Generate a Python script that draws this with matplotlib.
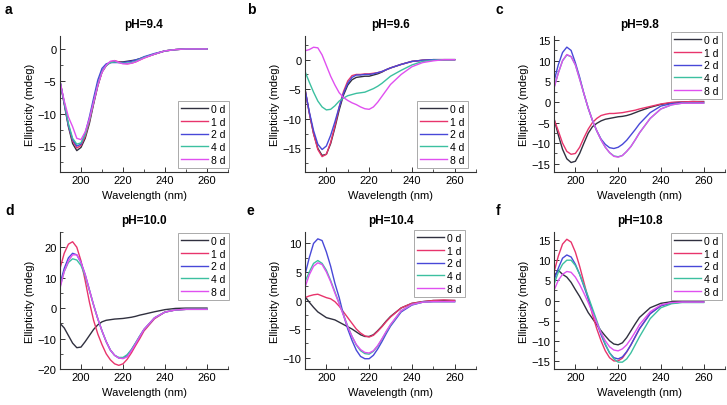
import matplotlib
matplotlib.use("Agg")
import matplotlib.pyplot as plt
from matplotlib.ticker import MultipleLocator

plt.rcParams.update({
    "font.family": ["Liberation Sans", "DejaVu Sans"],
    "font.size": 7.5,
    "axes.linewidth": 0.8,
})

# ----------------------------------------
# Data
# ----------------------------------------
wavelength = [190, 192, 194, 196, 198, 200, 202, 204, 206, 208, 210, 212, 214, 216,
              218, 220, 222, 224, 226, 228, 230, 235, 240, 245, 250, 255, 260]
days = ["0 d", "1 d", "2 d", "4 d", "8 d"]

# pH 9.4
a_0d = [-5, -8.5, -12, -14.6, -15.7, -15.2, -13.8, -11.5, -8.5, -5.7, -3.5, -2.5, -2.1, -2.0,
        -2.0, -2.0, -1.9, -1.8, -1.7, -1.5, -1.3, -0.8, -0.3, -0.1, 0, 0, 0]
a_1d = [-5, -8.3, -11.8, -14.2, -15.3, -14.9, -13.5, -11.2, -8.3, -5.6, -3.6, -2.6, -2.0, -1.8,
        -2.0, -2.2, -2.3, -2.2, -2.0, -1.7, -1.4, -0.8, -0.3, -0.1, 0, 0, 0]
a_2d = [-5, -8.3, -11.8, -14.0, -15.0, -14.7, -13.0, -10.5, -7.6, -4.8, -3.0, -2.3, -2.1, -2.1,
        -2.1, -2.1, -2.0, -1.9, -1.7, -1.5, -1.2, -0.7, -0.3, -0.1, 0, 0, 0]
a_4d = [-5, -8.2, -11.5, -13.8, -14.7, -14.5, -13.2, -11.0, -8.2, -5.5, -3.5, -2.6, -2.1, -2.0,
        -2.1, -2.2, -2.2, -2.1, -1.9, -1.6, -1.3, -0.8, -0.3, -0.1, 0, 0, 0]
a_8d = [-5, -8, -10.5, -12.0, -13.8, -14.0, -12.8, -10.8, -8.2, -5.6, -3.6, -2.5, -1.9, -1.8,
        -2.1, -2.3, -2.3, -2.2, -2.0, -1.7, -1.4, -0.8, -0.3, -0.1, 0, 0, 0]

# pH 9.6
b_0d = [-5, -9, -12.5, -15, -16.2, -16.0, -14.2, -11.5, -8.5, -6.0, -4.3, -3.4, -3.0, -2.9,
        -2.8, -2.8, -2.6, -2.4, -2.1, -1.7, -1.4, -0.8, -0.3, -0.1, 0, 0, 0]
b_1d = [-5, -9, -12.5, -15.2, -16.4, -16.0, -14.0, -11.2, -8.0, -5.4, -3.6, -2.7, -2.5, -2.5,
        -2.4, -2.4, -2.3, -2.2, -2.0, -1.7, -1.4, -0.8, -0.3, -0.1, 0, 0, 0]
b_2d = [-5, -8.8, -12, -14.3, -15.2, -14.6, -12.8, -10.5, -8.0, -5.7, -4.0, -3.0, -2.6, -2.6,
        -2.5, -2.5, -2.4, -2.2, -2.0, -1.7, -1.4, -0.8, -0.3, -0.1, 0, 0, 0]
b_4d = [-2, -3.8, -5.5, -7.0, -8.0, -8.5, -8.4, -7.8, -7.0, -6.5, -6.1, -5.9, -5.7, -5.6,
        -5.5, -5.2, -4.9, -4.5, -4.0, -3.4, -2.8, -1.8, -0.9, -0.3, -0.1, 0, 0]
b_8d = [1.5, 1.7, 2.1, 2.0, 0.8, -1.0, -2.8, -4.3, -5.6, -6.4, -6.9, -7.3, -7.6, -8.0,
        -8.3, -8.4, -8.0, -7.2, -6.2, -5.2, -4.2, -2.5, -1.2, -0.5, -0.2, 0, 0]

# pH 9.8
c_0d = [-4, -8, -11.5, -13.8, -14.7, -14.4, -12.5, -10.0, -7.6, -6.0, -5.2, -4.6, -4.2, -4.0,
        -3.8, -3.6, -3.5, -3.3, -3.0, -2.6, -2.2, -1.3, -0.6, -0.2, 0, 0.1, 0.1]
c_1d = [-4.2, -7, -10, -12, -12.7, -12.5, -11, -8.7, -6.6, -5.0, -4.0, -3.3, -3.0, -2.8,
        -2.8, -2.7, -2.6, -2.4, -2.2, -2.0, -1.7, -1.1, -0.5, -0.1, 0, 0.1, 0]
c_2d = [5, 9, 12, 13.3, 12.5, 9.5, 6, 2, -1.5, -4.5, -7, -9, -10.3, -11.1,
        -11.3, -11, -10.3, -9.3, -8, -6.7, -5.3, -2.6, -1, -0.4, -0.2, -0.2, -0.2]
c_4d = [3.5, 7, 10, 11.4, 11, 9, 5.6, 2, -1.5, -4.5, -7, -9.2, -11, -12.3,
        -13.1, -13.3, -13, -12, -10.8, -9.2, -7.5, -4, -1.7, -0.7, -0.3, -0.3, -0.3]
c_8d = [3.3, 7, 10, 11.5, 11, 9, 5.5, 2, -1.5, -4.5, -7, -9.2, -11, -12.3,
        -13.2, -13.4, -13, -12, -10.8, -9.2, -7.5, -4, -1.7, -0.7, -0.3, -0.3, -0.3]

# pH 10.0
d_0d = [-5, -6.5, -9, -11.5, -13, -12.8, -11, -9, -7, -5.5, -4.5, -4, -3.8, -3.6,
        -3.5, -3.4, -3.2, -3, -2.7, -2.3, -2, -1.2, -0.5, -0.1, 0, 0, 0]
d_1d = [13, 18, 21, 21.8, 20, 15.5, 9, 2, -4, -8.5, -12, -15, -17, -18.3,
        -18.8, -18.3, -16.8, -14.7, -12.3, -10, -7.5, -3.5, -1.3, -0.6, -0.4, -0.4, -0.4]
d_2d = [8, 13, 16.5, 18, 17.5, 15, 11, 6, 1, -3.5, -7.5, -11, -13.8, -15.5,
        -16.4, -16.5, -15.5, -13.7, -11.5, -9.2, -7, -3.2, -1.3, -0.6, -0.4, -0.4, -0.4]
d_4d = [7, 12, 15, 16.2, 15.8, 14, 10.5, 5.8, 1, -3.5, -7.5, -11, -13.8, -15.5,
        -16.2, -16.2, -15.3, -13.6, -11.4, -9.1, -7, -3.2, -1.3, -0.6, -0.4, -0.4, -0.4]
d_8d = [6.5, 12, 15.5, 17.5, 17.5, 15, 11, 6, 1, -3.5, -7.5, -11, -13.8, -15.5,
        -16.4, -16.6, -16, -14, -11.7, -9.3, -7, -3.2, -1.3, -0.6, -0.4, -0.4, -0.4]

# pH 10.4
e_0d = [0.7, -0.3, -1.2, -2, -2.5, -3, -3.2, -3.4, -3.8, -4.2, -4.6, -5, -5.5, -6,
        -6.3, -6.3, -6, -5.3, -4.5, -3.6, -2.8, -1.3, -0.5, -0.2, 0, 0, 0]
e_1d = [0.5, 0.8, 1, 1.1, 0.8, 0.5, 0.3, -0.2, -1, -2, -3, -4, -5, -5.7,
        -6.2, -6.4, -6.1, -5.4, -4.6, -3.7, -2.9, -1.3, -0.5, -0.2, 0, 0.1, 0]
e_2d = [4.5, 7.5, 10, 10.8, 10.5, 8.5, 6, 3, 0.5, -2.5, -5, -7, -8.7, -9.8,
        -10.2, -10.2, -9.6, -8.5, -7.2, -5.8, -4.5, -2, -0.8, -0.3, -0.2, -0.2, -0.2]
e_4d = [3.3, 5, 6.5, 7, 6.5, 5.3, 3.5, 1.5, -0.5, -2.5, -4.5, -6.3, -7.8, -8.8,
        -9.3, -9.4, -8.9, -8, -6.8, -5.5, -4.3, -1.8, -0.7, -0.3, -0.2, -0.2, -0.2]
e_8d = [2.3, 4.5, 6, 6.6, 6.3, 5, 3.3, 1.3, -0.6, -2.6, -4.6, -6.3, -7.7, -8.6,
        -9.1, -9.2, -8.8, -7.9, -6.7, -5.4, -4.2, -1.8, -0.7, -0.3, -0.2, -0.2, -0.2]

# pH 10.8
f_0d = [6, 7.5, 6.5, 5.8, 4.5, 2.7, 1, -1, -3, -4.5, -6, -7.5, -8.8, -10,
        -10.8, -11, -10.5, -9.2, -7.5, -5.8, -4.2, -1.8, -0.7, -0.3, -0.2, -0.2, -0.2]
f_1d = [7, 11, 14, 15.2, 14.5, 12, 8.5, 4.5, 0.5, -3.5, -7, -10, -12.5, -14.2,
        -15, -15, -14.3, -12.8, -11, -9, -7, -3.2, -1.3, -0.6, -0.4, -0.4, -0.4]
f_2d = [5, 8, 10.5, 11.3, 10.8, 9, 6.5, 3.5, 0.5, -2.5, -5.5, -8.5, -11, -13,
        -14.2, -14.5, -14, -12.7, -11, -9, -7, -3.3, -1.3, -0.6, -0.4, -0.4, -0.4]
f_4d = [4, 7, 9, 10, 10, 8.7, 6.5, 3.8, 1, -2, -5, -8, -10.8, -13,
        -14.5, -15.3, -15.3, -14.5, -13, -11, -9, -4.5, -1.8, -0.8, -0.5, -0.5, -0.5]
f_8d = [2.5, 5, 6.5, 7.2, 7, 5.8, 4, 1.8, -0.5, -3, -5.5, -8, -10, -11.5,
        -12.3, -12.5, -12, -11, -9.5, -7.8, -6, -2.8, -1.1, -0.5, -0.4, -0.4, -0.4]

# ----------------------------------------
# Colours
# ----------------------------------------
line_colors = ["#30303f", "#e8346c", "#4848d8", "#3cc0a0", "#e050f0"]

W, H = 727, 406
fig = plt.figure(figsize=(W / 100, H / 100), dpi=100)

def px_rect(x0, x1, top, bottom):
    return [x0 / W, 1 - bottom / H, (x1 - x0) / W, (bottom - top) / H]

# panel: letter, letter y, title, series, ylim, ymajor, axes px, legend anchor (px: right, top)
panels = [
    ("a", 10, "pH=9.4", [a_0d, a_1d, a_2d, a_4d, a_8d], (-19, 2), 5, (60, 228, 37, 173), (229, 102)),
    ("b", 10, "pH=9.6", [b_0d, b_1d, b_2d, b_4d, b_8d], (-19, 4), 5, (305, 476, 37, 173), (468, 102)),
    ("c", 10, "pH=9.8", [c_0d, c_1d, c_2d, c_4d, c_8d], (-17, 16), 5, (554, 725, 37, 173), (722, 33)),
    ("d", 211, "pH=10.0", [d_0d, d_1d, d_2d, d_4d, d_8d], (-20, 25), 10, (60, 228, 233, 370), (229, 234)),
    ("e", 211, "pH=10.4", [e_0d, e_1d, e_2d, e_4d, e_8d], (-12, 12), 5, (305, 476, 233, 370), (465, 231)),
    ("f", 211, "pH=10.8", [f_0d, f_1d, f_2d, f_4d, f_8d], (-17, 17), 5, (554, 725, 233, 370), (722, 234)),
]

for letter, ly_letter, title, series, ylim, ymaj, (x0, x1, top, bottom), (lx, ly) in panels:
    ax = fig.add_axes(px_rect(x0, x1, top, bottom))
    for vals, lab, col in zip(series, days, line_colors):
        ax.plot(wavelength, vals, color=col, lw=1.0, label=lab)
    ax.set_xlim(190, 270)
    ax.set_ylim(*ylim)
    ax.xaxis.set_major_locator(MultipleLocator(20))
    ax.xaxis.set_minor_locator(MultipleLocator(10))
    ax.yaxis.set_major_locator(MultipleLocator(ymaj))
    ax.yaxis.set_minor_locator(MultipleLocator(ymaj / 2))
    ax.tick_params(which="both", direction="in", labelsize=8, colors="#333333",
                   labelcolor="black")
    ax.tick_params(which="major", length=3.5, width=0.7, pad=2.5)
    ax.tick_params(which="minor", length=2, width=0.6)
    ax.spines["top"].set_visible(False)
    ax.spines["right"].set_visible(False)
    for s in ("left", "bottom"):
        ax.spines[s].set_color("#333333")
    ax.set_xlabel("Wavelength (nm)", fontsize=8, labelpad=3)
    ax.set_ylabel("Ellipticity (mdeg)", fontsize=8, labelpad=2)

    # legend anchored with its top-right corner at given pixel
    leg = ax.legend(loc="upper right", bbox_to_anchor=(lx / W, 1 - ly / H),
                    bbox_transform=fig.transFigure, fontsize=7.5, frameon=True,
                    fancybox=False, framealpha=1, edgecolor="#aaaaaa",
                    handlelength=2.6, handletextpad=0.3, labelspacing=0.25,
                    borderpad=0.3, borderaxespad=0)
    leg.get_frame().set_linewidth(0.7)

    fig.text((x0 + x1) / 2 / W, 1 - (top - 12) / H, title, ha="center", va="center",
             fontsize=8.5, fontweight="bold")
    fig.text((x0 - 55 if x0 < 100 else x0 - 58) / W, 1 - ly_letter / H, letter,
             ha="left", va="center", fontsize=10, fontweight="bold")

fig.savefig("out.png", dpi=100)
